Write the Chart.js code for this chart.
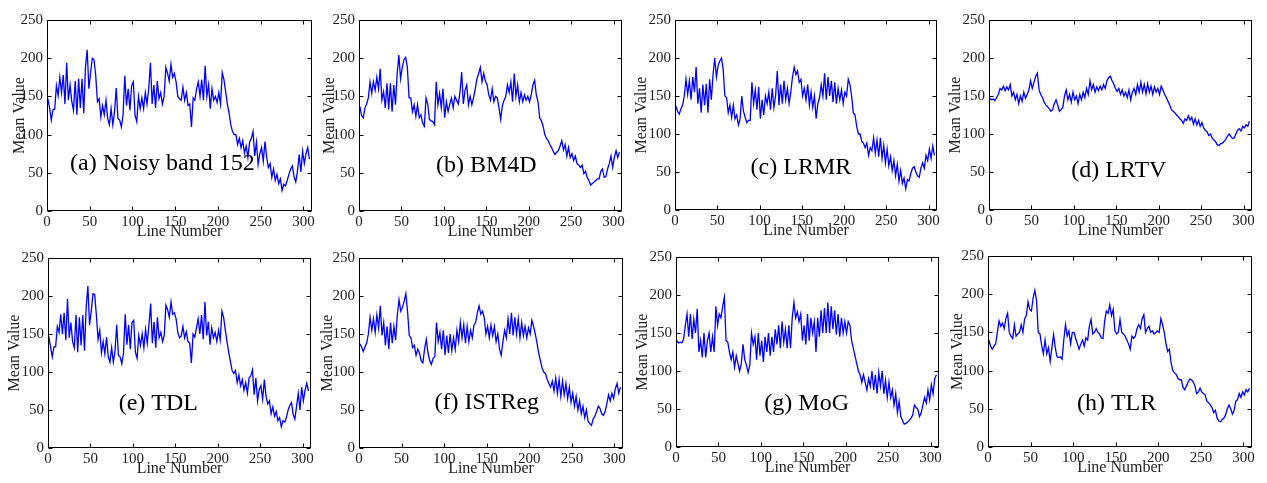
<!DOCTYPE html>
<html lang="en">

<head>
  <meta charset="UTF-8">
  <title>Mean Value per Line</title>
  <style>
    body { margin: 0; background: #fff; }
    #wrap { position: relative; width: 1267px; height: 483px; }
    #wrap canvas { position: absolute; }
  </style>
</head>

<body>
  <div id="wrap"></div>

  <script src="https://cdn.jsdelivr.net/npm/chart.js"></script>
  <script>
    // sampled every second line, 1..307
    const lineNumbers = Array.from({ length: 154 }, (_, i) => 1 + 2 * i);
    const xTicks = [0, 50, 100, 150, 200, 250, 300];
    const yTicks = [0, 50, 100, 150, 200, 250];

    const noisy = [
      147, 135, 119, 133, 133, 164, 151, 175, 155, 178,
      140, 194, 145, 165, 143, 132, 170, 126, 173, 135,
      173, 128, 188, 211, 160, 181, 200, 198, 177, 143,
      147, 123, 138, 126, 145, 121, 113, 134, 113, 130,
      161, 121, 119, 110, 126, 177, 138, 160, 132, 164,
      169, 125, 117, 150, 134, 148, 134, 155, 140, 160,
      194, 140, 165, 135, 170, 147, 155, 140, 150, 188,
      180, 170, 192, 175, 180, 169, 150, 147, 145, 162,
      145, 155, 138, 140, 110, 148, 145, 160, 169, 150,
      172, 145, 190, 150, 165, 134, 160, 145, 150, 142,
      155, 140, 181, 172, 156, 140, 128, 113, 104, 100,
      100, 87, 95, 83, 92, 76, 85, 70, 90, 95,
      104, 72, 90, 61, 75, 83, 65, 91, 70, 57,
      62, 44, 55, 40, 48, 36, 42, 27, 35, 33,
      40, 48, 55, 59, 45, 38, 52, 74, 51, 78,
      62, 75, 83, 68
    ];
    const bm4d = [
      137, 125, 122, 135, 140, 148, 169, 154, 169, 158,
      175, 160, 186, 145, 156, 135, 167, 133, 167, 130,
      165, 139, 180, 204, 173, 188, 198, 201, 188, 148,
      148, 130, 139, 124, 139, 122, 126, 115, 111, 148,
      140, 120, 118, 117, 113, 169, 139, 154, 135, 160,
      122, 143, 130, 140, 148, 135, 150, 145, 140, 155,
      182, 140, 158, 165, 139, 150, 139, 148, 160, 173,
      180, 188, 169, 180, 170, 165, 152, 145, 160, 143,
      150, 148, 135, 120, 138, 145, 150, 165, 155, 169,
      143, 180, 150, 165, 143, 155, 143, 152, 145, 150,
      143, 152, 165, 171, 152, 143, 122, 118, 111, 100,
      95, 92, 87, 83, 78, 74, 77, 79, 85, 92,
      80, 87, 72, 83, 70, 75, 66, 72, 62, 60,
      57, 60, 49, 52, 44, 40, 34, 36, 38, 40,
      42, 42, 52, 55, 44, 45, 55, 62, 72, 57,
      70, 79, 70, 77
    ];
    const lrmr = [
      137, 130, 126, 133, 138, 150, 172, 152, 170, 145,
      175, 155, 188, 140, 160, 128, 165, 138, 166, 128,
      172, 145, 178, 200, 175, 190, 196, 200, 185, 150,
      148, 128, 138, 122, 138, 120, 125, 112, 120, 150,
      130, 122, 115, 118, 118, 168, 140, 158, 132, 162,
      120, 145, 125, 150, 140, 155, 132, 160, 135, 150,
      183, 138, 165, 140, 170, 145, 160, 140, 155, 175,
      188, 178, 183, 168, 172, 150, 160, 145, 165, 138,
      155, 135, 150, 120, 140, 148, 165, 150, 180, 145,
      175, 150, 170, 142, 168, 140, 160, 145, 158, 140,
      155, 150, 172, 165, 150, 128, 125, 110, 100, 100,
      90, 88, 82, 88, 72, 82, 78, 95, 75, 92,
      70, 95, 68, 85, 62, 80, 58, 70, 52, 65,
      45, 60, 38, 52, 35, 42, 28, 40, 38, 48,
      55, 57, 50, 45, 43, 55, 62, 55, 72, 65,
      80, 68, 84, 72
    ];
    const lrtv = [
      147, 145, 146, 144, 148, 152, 160, 158, 163, 157,
      162, 158, 165, 150, 155, 145, 152, 140, 150, 143,
      155, 147, 152, 158, 170, 160, 168, 176, 180, 158,
      152, 148, 142, 138, 136, 133, 130, 132, 140, 145,
      138, 130, 132, 135, 150, 158, 145, 152, 142, 155,
      145, 150, 140, 152, 145, 155, 148, 160, 152, 170,
      158, 165, 155, 162, 157, 163, 158, 165, 160, 170,
      174, 176, 170, 166, 160, 156, 160, 152, 158, 150,
      155, 148, 158, 145, 155, 160, 152, 165, 155, 168,
      155, 165, 153, 166, 155, 163, 152, 162, 155, 160,
      152, 163, 158, 152, 148, 143, 138, 132, 130, 128,
      125, 123, 120, 118, 114, 120, 118, 124, 118, 122,
      113, 120, 112, 118, 110, 115, 108, 105, 103, 98,
      100, 95, 92, 90, 86, 85, 87, 88, 90, 93,
      97, 100, 97, 94, 95, 100, 105, 107, 104, 110,
      108, 112, 110, 117
    ];
    const tdl = [
      147, 133, 120, 133, 133, 160, 152, 176, 150, 178,
      142, 196, 145, 165, 140, 132, 175, 126, 172, 135,
      175, 128, 185, 213, 162, 180, 203, 202, 175, 143,
      155, 125, 140, 124, 146, 120, 113, 132, 113, 128,
      162, 122, 120, 111, 125, 176, 136, 162, 130, 165,
      168, 126, 118, 148, 135, 150, 132, 156, 138, 162,
      190, 138, 166, 132, 172, 145, 152, 140, 148, 188,
      182, 172, 192, 176, 178, 170, 152, 145, 147, 160,
      145, 153, 140, 138, 112, 150, 146, 158, 170, 150,
      175, 143, 192, 148, 166, 136, 158, 145, 152, 140,
      155, 142, 180, 172, 155, 140, 126, 114, 102, 98,
      102, 86, 96, 82, 90, 76, 86, 72, 92, 95,
      103, 70, 92, 62, 77, 82, 64, 90, 68, 58,
      62, 45, 54, 42, 48, 36, 40, 28, 36, 34,
      40, 50, 56, 60, 44, 38, 55, 72, 50, 80,
      62, 76, 85, 75
    ];
    const istreg = [
      137, 133, 127, 133, 138, 150, 172, 155, 170, 152,
      175, 158, 187, 148, 165, 135, 160, 130, 165, 138,
      160, 142, 175, 195, 180, 185, 193, 203, 180, 148,
      145, 132, 135, 122, 130, 125, 115, 112, 130, 143,
      125, 115, 110, 118, 120, 165, 140, 152, 130, 155,
      122, 148, 125, 150, 128, 145, 130, 155, 140, 165,
      145, 162, 138, 160, 140, 155, 145, 162, 165, 178,
      187, 176, 180, 172, 150, 160, 145, 162, 148, 160,
      140, 150, 130, 122, 140, 155, 145, 170, 150, 178,
      148, 172, 150, 170, 145, 165, 148, 160, 145, 158,
      150, 168, 160, 150, 138, 125, 115, 105, 100, 98,
      90, 85, 80, 88, 75, 92, 72, 90, 68, 88,
      70, 85, 65, 80, 60, 72, 55, 68, 50, 62,
      45, 55, 40, 50, 35, 32, 30, 38, 42, 48,
      55, 52, 45, 43, 48, 58, 70, 62, 72, 65,
      78, 85, 72, 80
    ];
    const mog = [
      140, 137, 138, 137, 142, 160, 175, 145, 175, 142,
      168, 150, 182, 125, 140, 118, 150, 118, 140, 150,
      125, 145, 125, 185, 160, 175, 170, 185, 197, 140,
      138, 125, 115, 125, 105, 120, 110, 100, 110, 135,
      115, 108, 98, 108, 150, 135, 145, 115, 150, 120,
      140, 112, 145, 125, 150, 120, 145, 125, 155, 135,
      160, 130, 165, 138, 155, 130, 160, 130, 170, 190,
      170, 178, 165, 175, 140, 160, 135, 175, 140, 170,
      150, 165, 125, 170, 145, 180, 150, 183, 150, 190,
      150, 185, 155, 180, 148, 175, 145, 170, 150, 165,
      150, 165, 160, 140, 130, 120, 110, 100, 95, 85,
      95, 85, 75, 90, 80, 100, 75, 95, 70, 98,
      80, 100, 70, 88, 65, 85, 65, 75, 55, 70,
      45, 60, 40, 35, 30, 31, 33, 35, 38, 42,
      55, 52, 50, 40, 45, 55, 65, 58, 75, 62,
      82, 70, 90, 95
    ];
    const tlr = [
      140, 132, 128, 132, 135, 150, 165, 158, 162, 155,
      168, 175, 150, 145, 142, 160, 145, 148, 150, 160,
      150, 168, 172, 190, 180, 178, 195, 205, 192, 150,
      148, 133, 122, 140, 122, 130, 112, 130, 147, 130,
      118, 117, 118, 115, 140, 160, 145, 152, 135, 150,
      150, 142, 135, 128, 135, 140, 132, 143, 140, 158,
      167, 148, 150, 155, 150, 148, 143, 142, 165, 178,
      175, 186, 172, 180, 152, 148, 150, 167, 150, 148,
      145, 140, 135, 128, 145, 142, 145, 155, 160, 155,
      168, 173, 150, 155, 158, 150, 152, 148, 150, 152,
      150, 168, 160, 150, 135, 125, 128, 110, 100, 97,
      95, 90, 88, 88, 78, 75, 80, 85, 89, 88,
      85, 80, 70, 72, 77, 72, 70, 68, 60, 58,
      55, 52, 45, 48, 38, 34, 33, 36, 38, 42,
      50, 55, 50, 43, 48, 60, 62, 70, 65, 72,
      68, 75, 72, 77
    ];

    const notes = ['(a) Noisy band 152', '(b) BM4D', '(c) LRMR', '(d) LRTV',
      '(e) TDL', '(f) ISTReg', '(g) MoG', '(h) TLR'];
    const series = [noisy, bm4d, lrmr, lrtv, tdl, istreg, mog, tlr];
    // where each label sits, in line / mean-value units
    const noteAt = [[135, 62], [150, 59], [149, 56], [153, 52], [130, 58], [150, 59], [154, 57], [151, 57]];

    // plot boxes in page pixels: left, top, right, bottom, y-axis width
    const boxes = [
      [47, 17, 312, 211, 35], [359, 17, 622, 211, 37], [675, 17, 937, 210, 41], [989, 17, 1252, 210, 41],
      [48, 255, 311, 448, 41], [359, 255, 623, 448, 39], [676, 254, 939, 447, 41], [988, 253, 1252, 447, 38]
    ];
    const PAD_TOP = 10, PAD_RIGHT = 6, X_AXIS_H = 29;

    Chart.defaults.font.family = '"Liberation Serif", "Times New Roman", serif';
    Chart.defaults.color = '#222';

    // matlab-style box with inward ticks, plus the panel caption
    const framePlugin = {
      id: 'frame',
      beforeDatasetsDraw(chart, args, opts) {
        const { ctx, scales: { x, y } } = chart;
        ctx.save();
        ctx.font = '24px "Liberation Serif", serif';
        ctx.fillStyle = '#000';
        ctx.textAlign = 'center';
        ctx.textBaseline = 'middle';
        ctx.fillText(opts.text, x.getPixelForValue(opts.at[0]), y.getPixelForValue(opts.at[1]));
        ctx.restore();
      },
      afterDraw(chart) {
        const { ctx, chartArea: a, scales: { x, y } } = chart;
        const l = Math.round(a.left) + 0.5, r = Math.round(a.right) - 0.5;
        const t = Math.round(a.top) + 0.5, b = Math.round(a.bottom) - 0.5;
        ctx.save();
        ctx.strokeStyle = '#000';
        ctx.lineWidth = 1;
        ctx.strokeRect(l, t, r - l, b - t);
        ctx.beginPath();
        x.ticks.forEach(tk => {
          const px = Math.round(x.getPixelForValue(tk.value)) + 0.5;
          ctx.moveTo(px, b); ctx.lineTo(px, b - 4);
          ctx.moveTo(px, t); ctx.lineTo(px, t + 4);
        });
        y.ticks.forEach(tk => {
          const py = Math.round(y.getPixelForValue(tk.value)) + 0.5;
          ctx.moveTo(l, py); ctx.lineTo(l + 4, py);
          ctx.moveTo(r, py); ctx.lineTo(r - 4, py);
        });
        ctx.stroke();
        ctx.restore();
      }
    };

    const wrap = document.getElementById('wrap');

    series.forEach((values, i) => {
      const [L, T, R, B, yw] = boxes[i];
      const canvas = document.createElement('canvas');
      const left = L - yw, top = T - PAD_TOP;
      canvas.width = R + PAD_RIGHT - left;
      canvas.height = B + X_AXIS_H - top;
      canvas.style.left = left + 'px';
      canvas.style.top = top + 'px';
      wrap.appendChild(canvas);

      new Chart(canvas, {
        type: 'line',
        data: {
          datasets: [{
            data: values.map((v, k) => ({ x: lineNumbers[k], y: v })),
            borderColor: '#0000ff',
            borderWidth: 1.3,
            pointRadius: 0,
            tension: 0,
            fill: false
          }]
        },
        options: {
          responsive: false,
          animation: false,
          layout: { padding: { top: PAD_TOP, right: PAD_RIGHT, left: 0, bottom: 0 } },
          plugins: {
            legend: { display: false },
            tooltip: { enabled: false },
            frame: { text: notes[i], at: noteAt[i] }
          },
          scales: {
            x: {
              type: 'linear',
              min: 0,
              max: 310,
              afterFit: s => { s.height = X_AXIS_H; },
              afterBuildTicks: s => { s.ticks = xTicks.map(v => ({ value: v })); },
              grid: { display: false, drawTicks: false },
              border: { display: false },
              ticks: { font: { size: 15 }, padding: 2, maxRotation: 0, autoSkip: false, includeBounds: false },
              title: { display: true, text: 'Line Number', font: { size: 16, lineHeight: 1 }, padding: 0 }
            },
            y: {
              min: 0,
              max: 250,
              afterFit: s => { s.width = yw; },
              afterBuildTicks: s => { s.ticks = yTicks.map(v => ({ value: v })); },
              grid: { display: false, drawTicks: false },
              border: { display: false },
              ticks: { font: { size: 15 }, padding: 4 },
              title: { display: true, text: 'Mean Value', font: { size: 16, lineHeight: 1 }, padding: 0 }
            }
          }
        },
        plugins: [framePlugin]
      });
    });
  </script>
</body>

</html>
